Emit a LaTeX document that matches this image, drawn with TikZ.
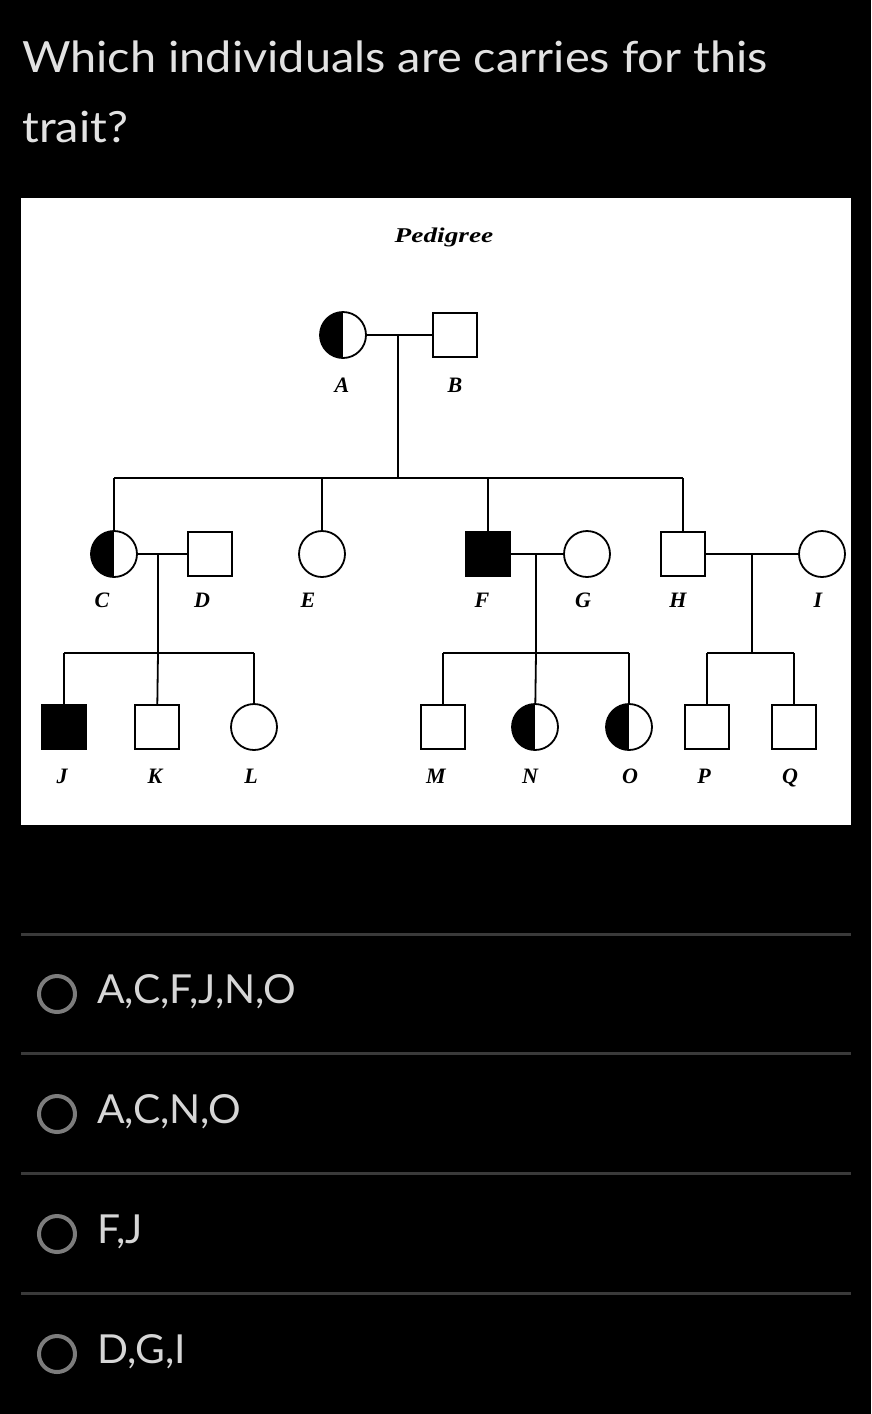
\documentclass[tikz,border=0pt]{standalone}
\usepackage{fontspec}
\setmainfont{Lato}
\newfontfamily\pedfont{Liberation Serif}
\definecolor{titlegray}{HTML}{E2E2E2}
\definecolor{optgray}{HTML}{D6D6D6}
\definecolor{radiogray}{HTML}{7C7C7C}
\definecolor{sepgray}{HTML}{3A3A3A}
\begin{document}
\begin{tikzpicture}[x=1pt,y=-1pt,
  female/.style={circle,draw,line width=1.8pt,minimum size=46pt,inner sep=0pt,fill=white},
  male/.style={rectangle,draw,line width=1.8pt,minimum size=44pt,inner sep=0pt,fill=white},
  affected/.style={fill=black},
  carrier/.style={path picture={\fill[black] (path picture bounding box.south west) rectangle (path picture bounding box.north);}},
  lbl/.style={font=\pedfont\bfseries\itshape\fontsize{22}{22}\selectfont,anchor=base,inner sep=0pt},
  link/.style={line width=1.8pt},
  qtext/.style={anchor=base west,inner sep=0pt,text=titlegray,font=\fontsize{43}{50}\selectfont,xscale=1.09},
  otext/.style={anchor=base west,inner sep=0pt,text=optgray,font=\fontsize{40}{45}\selectfont,xscale=1.02},
  radio/.style={circle,draw=radiogray,line width=4pt,minimum size=36pt,inner sep=0pt},
  sep/.style={draw=sepgray,line width=3pt}
]
\useasboundingbox (0,0) rectangle (871,1414);
\fill[black] (0,0) rectangle (871,1414);
\fill[white] (21,198) rectangle (851,825);

% question
\node[qtext] (q1) at (22,72) {Which individuals are carries for this};
\node[qtext] (q2) at (22,142) {trait?};

% pedigree title
\node[font=\pedfont\bfseries\itshape\fontsize{21}{21}\selectfont,xscale=1.3,inner sep=0pt,anchor=base] (ttl) at (444,242) {Pedigree};

% generation I
\node[female,carrier] (A) at (343,335) {};
\node[male] (B) at (455,335) {};
% generation II
\node[female,carrier] (C) at (114,554) {};
\node[male] (D) at (210,554) {};
\node[female] (E) at (322,554) {};
\node[male,affected] (F) at (488,554) {};
\node[female] (G) at (587,554) {};
\node[male] (H) at (683,554) {};
\node[female] (I) at (822,554) {};
% generation III
\node[male,affected] (J) at (64,727) {};
\node[male] (K) at (157,727) {};
\node[female] (L) at (254,727) {};
\node[male] (M) at (443,727) {};
\node[female,carrier] (N) at (535,727) {};
\node[female,carrier] (O) at (629,727) {};
\node[male] (P) at (707,727) {};
\node[male] (Q) at (794,727) {};

% labels
\node[lbl] (lA) at (342,392) {A};
\node[lbl] (lB) at (455,392) {B};
\node[lbl] (lC) at (102,607) {C};
\node[lbl] (lD) at (202,607) {D};
\node[lbl] (lE) at (308,607) {E};
\node[lbl] (lF) at (482,607) {F};
\node[lbl] (lG) at (583,607) {G};
\node[lbl] (lH) at (678,607) {H};
\node[lbl] (lI) at (818,607) {I};
\node[lbl] (lJ) at (62,783) {J};
\node[lbl] (lK) at (155,783) {K};
\node[lbl] (lL) at (251,783) {L};
\node[lbl] (lM) at (436,783) {M};
\node[lbl] (lN) at (530,783) {N};
\node[lbl] (lO) at (630,783) {O};
\node[lbl] (lP) at (704,783) {P};
\node[lbl] (lQ) at (790,783) {Q};

% connector coordinates
\coordinate (mAB) at (398,335);
\coordinate (sI) at (398,478);
\coordinate (sL) at (114,478);
\coordinate (sR) at (683,478);
\coordinate (sE) at (322,478);
\coordinate (sF) at (488,478);
\coordinate (mCD) at (158,554);
\coordinate (cCD) at (158,653);
\coordinate (cCDl) at (64,653);
\coordinate (cCDr) at (254,653);
\coordinate (mFG) at (536,554);
\coordinate (cFG) at (536,653);
\coordinate (cFGl) at (443,653);
\coordinate (cFGr) at (629,653);
\coordinate (mHI) at (752,554);
\coordinate (cHI) at (752,653);
\coordinate (cHIl) at (707,653);
\coordinate (cHIr) at (794,653);

\begin{scope}[link]
\draw (A) -- (B);
\draw (mAB) -- (sI);
\draw (sL) -- (sR);
\draw (sL) -- (C);
\draw (sE) -- (E);
\draw (sF) -- (F);
\draw (sR) -- (H);
\draw (C) -- (D);
\draw (mCD) -- (cCD);
\draw (cCDl) -- (cCDr);
\draw (cCDl) -- (J);
\draw (cCD) -- (K);
\draw (cCDr) -- (L);
\draw (F) -- (G);
\draw (mFG) -- (cFG);
\draw (cFGl) -- (cFGr);
\draw (cFGl) -- (M);
\draw (cFG) -- (N);
\draw (cFGr) -- (O);
\draw (H) -- (I);
\draw (mHI) -- (cHI);
\draw (cHIl) -- (cHIr);
\draw (cHIl) -- (P);
\draw (cHIr) -- (Q);
\end{scope}

% answer options
\coordinate (s1a) at (21,934); \coordinate (s1b) at (851,934);
\coordinate (s2a) at (21,1053); \coordinate (s2b) at (851,1053);
\coordinate (s3a) at (21,1173); \coordinate (s3b) at (851,1173);
\coordinate (s4a) at (21,1293); \coordinate (s4b) at (851,1293);
\draw[sep] (s1a) -- (s1b);
\draw[sep] (s2a) -- (s2b);
\draw[sep] (s3a) -- (s3b);
\draw[sep] (s4a) -- (s4b);

\node[radio] (r1) at (57,994) {};
\node[radio] (r2) at (57,1114) {};
\node[radio] (r3) at (57,1234) {};
\node[radio] (r4) at (57,1354) {};
\node[otext] (o1) at (97,1003) {A,C,F,J,N,O};
\node[otext] (o2) at (97,1123) {A,C,N,O};
\node[otext] (o3) at (97,1243) {F,J};
\node[otext] (o4) at (97,1363) {D,G,I};
\end{tikzpicture}
\end{document}
